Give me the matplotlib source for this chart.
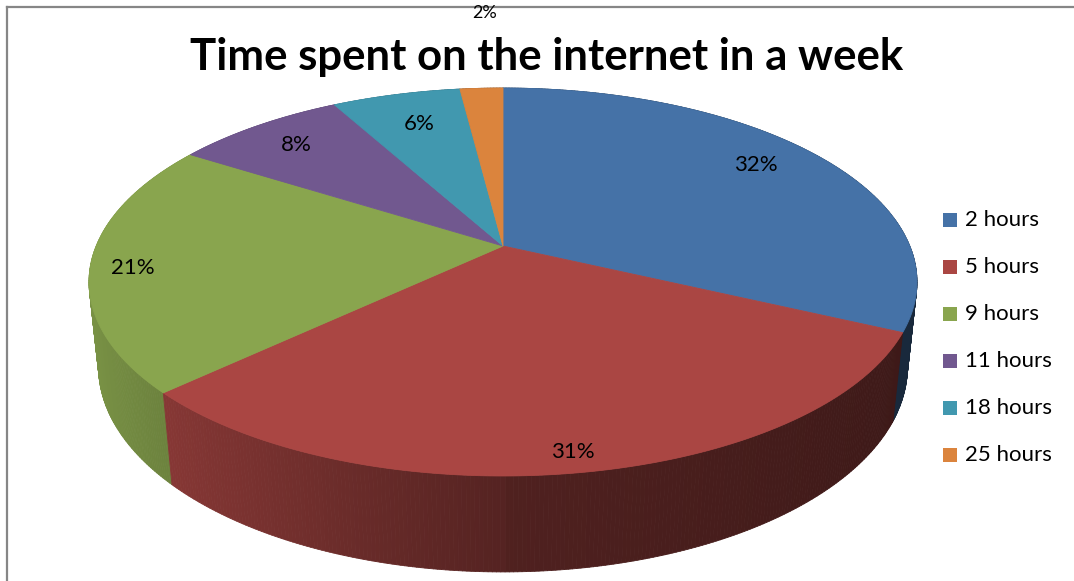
import numpy as np
import matplotlib
matplotlib.use("Agg")
import matplotlib.pyplot as plt
from matplotlib.patches import Polygon, Rectangle
from matplotlib.collections import PolyCollection

categories = ["2 hours", "5 hours", "9 hours", "11 hours", "18 hours", "25 hours"]
shares = [32, 31, 21, 8, 6, 2]
labels = ["32%", "31%", "21%", "8%", "6%", "2%"]
colors = ["#4572A7", "#AA4643", "#89A54E", "#71588F", "#4198AF", "#DB843D"]
title = "Time spent on the internet in a week"

# label distance from centre (fraction of radius), last one sits outside
label_r = [0.8, 0.9, 0.9, 0.75, 0.8, 1.62]
# small pixel nudges so labels land where excel put them
label_nudge = [(-2, -7), (1, 7), (0, 6), (-17, -8), (4, 3), (13, 0)]

plt.rcParams['font.family'] = ['Lato', 'DejaVu Sans']

# simple perspective camera, everything in pixel space
CX, CY = 503, 246
F = 1945.7
L = 4.783
ALPHA = np.arcsin(0.4604)
H = 0.237


def project(X, Y, Z=0.0):
    depth = L + Y * np.cos(ALPHA) - Z * np.sin(ALPHA)
    x = CX + F * X / depth
    y = CY - F * (Y * np.sin(ALPHA) + Z * np.cos(ALPHA)) / depth
    return x, y, depth


def shade(hexcol, X):
    if X < 0:
        f = 0.5 + 0.4 * (-X)
    else:
        f = 0.47 - 0.12 * X
    r, g, b = matplotlib.colors.to_rgb(hexcol)
    return (r * f, g * f, b * f)


fig = plt.figure(figsize=(10.74, 5.81), dpi=100)
ax = fig.add_axes([0, 0, 1, 1])
ax.set_xlim(0, 1074)
ax.set_ylim(581, 0)
ax.axis("off")

# slice angles, clockwise from 12 o'clock
total = float(sum(shares))
edges = np.concatenate([[0], np.cumsum(shares)]) / total * 2 * np.pi

# side wall, painted back to front
quads, qcols, qdepth = [], [], []
for i in range(len(shares)):
    a, b = edges[i], edges[i + 1]
    n = max(2, int(np.degrees(b - a) / 0.5))
    ph = np.linspace(a, b, n + 1)
    for j in range(n):
        p0, p1 = ph[j], ph[j + 1]
        x0, y0, d0 = project(np.sin(p0), np.cos(p0))
        x1, y1, d1 = project(np.sin(p1), np.cos(p1))
        x2, y2, _ = project(np.sin(p1), np.cos(p1), -H)
        x3, y3, _ = project(np.sin(p0), np.cos(p0), -H)
        quads.append([(x0, y0), (x1, y1), (x2, y2), (x3, y3)])
        pm = 0.5 * (p0 + p1)
        qcols.append(shade(colors[i], np.sin(pm)))
        qdepth.append(0.5 * (d0 + d1))
order = np.argsort(qdepth)[::-1]
pc = PolyCollection([quads[k] for k in order],
                    facecolors=[qcols[k] for k in order],
                    edgecolors=[qcols[k] for k in order], linewidths=0.6)
ax.add_collection(pc)

# top faces
for i in range(len(shares)):
    ph = np.linspace(edges[i], edges[i + 1], 200)
    xs, ys, _ = project(np.sin(ph), np.cos(ph))
    pts = [(CX, CY)] + list(zip(xs, ys))
    ax.add_patch(Polygon(pts, closed=True, facecolor=colors[i],
                         edgecolor=colors[i], linewidth=0.6))

# data labels
for i in range(len(shares)):
    pm = 0.5 * (edges[i] + edges[i + 1])
    r = label_r[i]
    lx, ly, _ = project(r * np.sin(pm), r * np.cos(pm))
    lx += label_nudge[i][0]
    ly += label_nudge[i][1]
    fs = 13 if i == len(shares) - 1 else 16
    ax.text(lx, ly, labels[i], ha="center", va="center", fontsize=fs, color="black")

ax.text(547, 57, title, ha="center", va="center", fontsize=31.5,
        fontweight="bold", color="black")

# legend
for i, name in enumerate(categories):
    yy = 220 + 47 * i
    ax.add_patch(Rectangle((943, yy - 7), 14, 14, facecolor=colors[i], edgecolor="none"))
    ax.text(965, yy, name, ha="left", va="center", fontsize=16, color="black")

# chart frame
ax.plot([7, 1074], [7, 7], color="#868686", lw=1.6)
ax.plot([7, 7], [7, 581], color="#868686", lw=1.6)

fig.savefig("out.png", dpi=100)
